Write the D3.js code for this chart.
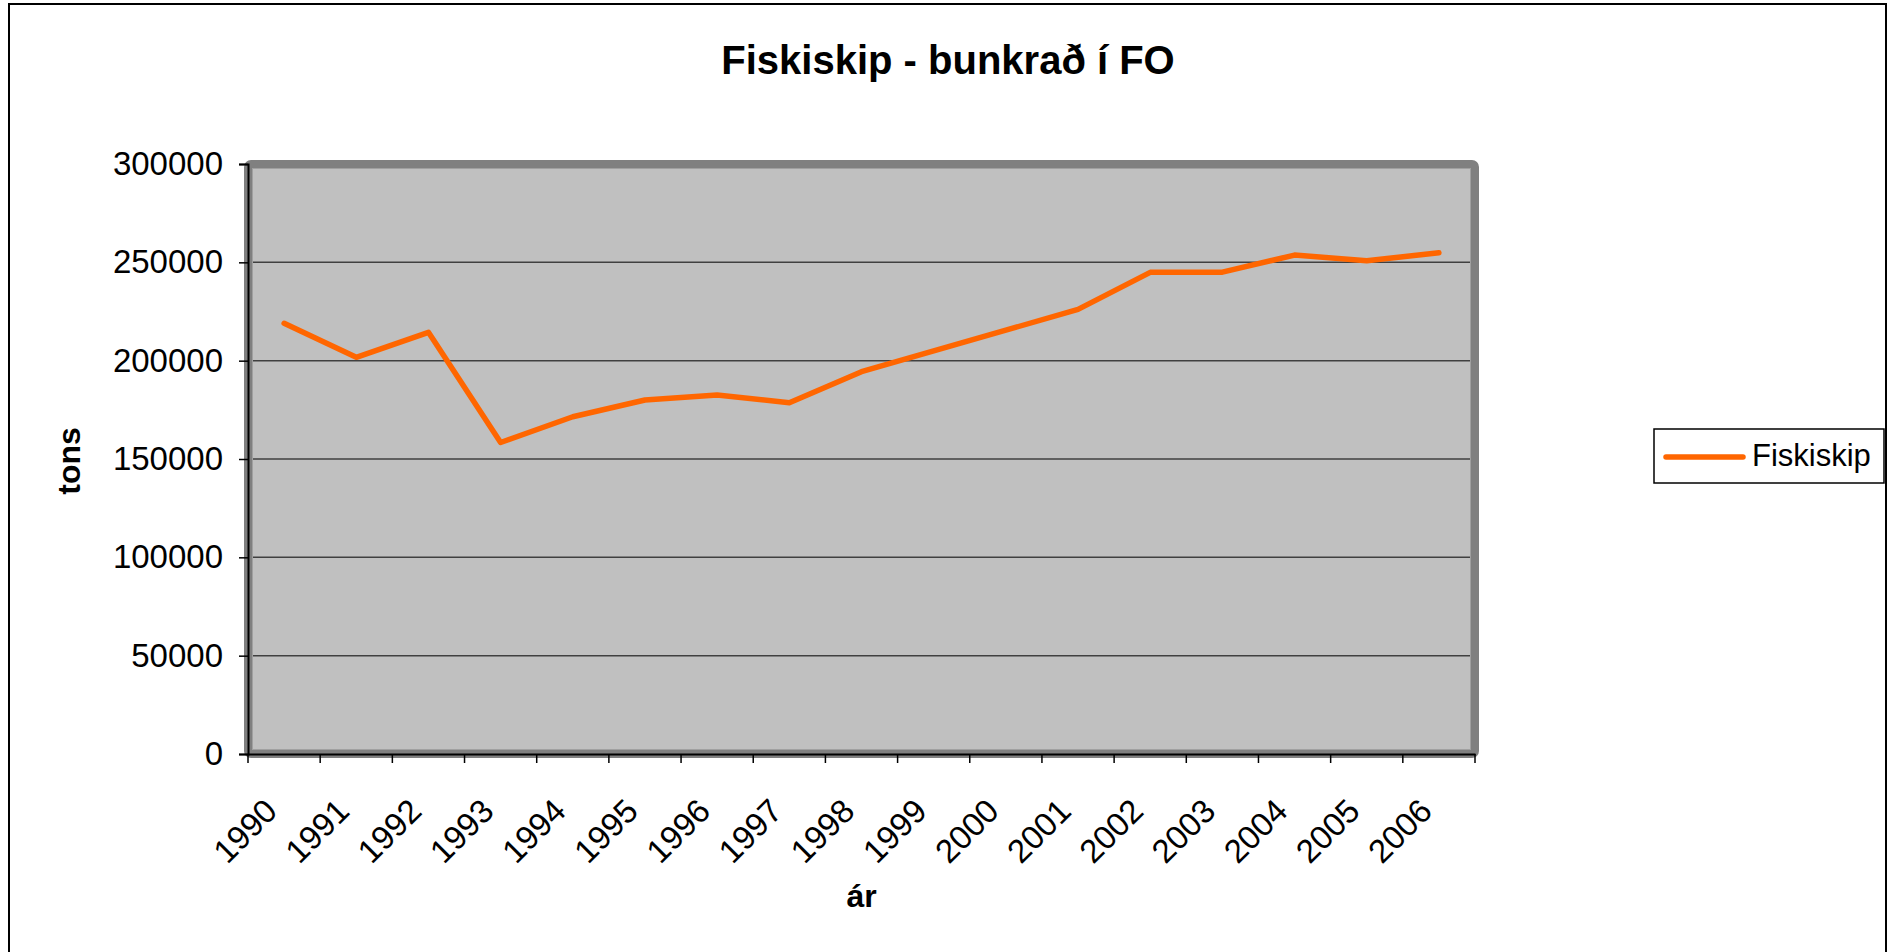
<!DOCTYPE html>
<html>
<head>
<meta charset="utf-8">
<script src="https://cdn.jsdelivr.net/npm/d3@7"></script>
<style>
  html, body { margin: 0; padding: 0; background: #fff; }
  svg { display: block; font-family: "Liberation Sans", Arial, sans-serif; }
</style>
</head>
<body>
<svg id="chart" width="1896" height="952"></svg>
<script>
const years = ["1990","1991","1992","1993","1994","1995","1996","1997","1998","1999","2000","2001","2002","2003","2004","2005","2006"];
const fiskiskip = [219000, 201700, 214400, 158400, 171500, 180000, 182500, 178600, 194400, 205000, 215500, 226100, 244900, 245000, 253700, 250800, 254900];
const yTicks = [0, 50000, 100000, 150000, 200000, 250000, 300000];
const seriesName = "Fiskiskip";
const title = "Fiskiskip - bunkrað í FO";
const xTitle = "ár";
const yTitle = "tons";

const svg = d3.select("#chart");
const L = 248, R = 1475, T = 164, B = 754;

const x = d3.scaleBand().domain(years).range([L, R]).paddingInner(0).paddingOuter(0);
const y = d3.scaleLinear().domain([0, 300000]).range([B, T]);

// outer frame
svg.append("rect").attr("x", 9).attr("y", 4).attr("width", 1877).attr("height", 960)
  .attr("fill", "#fff").attr("stroke", "#000").attr("stroke-width", 2);

// title
svg.append("text").attr("x", 948).attr("y", 74).attr("text-anchor", "middle")
  .attr("font-size", 40).attr("font-weight", "bold").text(title);

// plot area
svg.append("rect").attr("x", L).attr("y", T).attr("width", R - L).attr("height", B - T)
  .attr("fill", "#C0C0C0");

// gridlines
svg.append("g").selectAll("line").data(yTicks.filter(v => v > 0 && v < 300000)).join("line")
  .attr("x1", L).attr("x2", R).attr("y1", d => y(d)).attr("y2", d => y(d))
  .attr("stroke", "#404040").attr("stroke-width", 1.5);

// plot border (gray, rounded)
svg.append("rect").attr("x", L).attr("y", T).attr("width", R - L).attr("height", B - T)
  .attr("fill", "none").attr("stroke", "#808080").attr("stroke-width", 8).attr("rx", 3);
svg.append("rect").attr("x", L + 4.5).attr("y", T + 4.5).attr("width", R - L - 9).attr("height", B - T - 9)
  .attr("fill", "none").attr("stroke", "#A0A0A0").attr("stroke-width", 1);

// y axis
const yAxis = d3.axisLeft(y).tickValues(yTicks).tickSize(9).tickPadding(16).tickFormat(d3.format("d"));
const gy = svg.append("g").attr("transform", `translate(${L},0)`).call(yAxis);
gy.select(".domain").attr("stroke", "#000").attr("stroke-width", 2);
gy.selectAll(".tick line").attr("stroke", "#000").attr("stroke-width", 1.5);
gy.selectAll(".tick text").attr("font-size", 33).attr("fill", "#000")
  .attr("font-family", "Liberation Sans, Arial, sans-serif");

// x axis
const xAxis = d3.axisBottom(x).tickSize(0).tickPadding(0);
const gx = svg.append("g").attr("transform", `translate(0,${B})`).call(xAxis);
gx.select(".domain").attr("stroke", "#000").attr("stroke-width", 2);
gx.selectAll(".tick text")
  .attr("font-size", 33).attr("fill", "#000")
  .attr("font-family", "Liberation Sans, Arial, sans-serif")
  .attr("text-anchor", "end")
  .attr("dy", 0).attr("y", 0)
  .attr("transform", "translate(-5,59) rotate(-45)");
// boundary ticks
const bounds = years.map(v => x(v)).concat([x.range()[1]]);
svg.append("g").selectAll("line").data(bounds).join("line")
  .attr("x1", d => d).attr("x2", d => d).attr("y1", B).attr("y2", B + 9)
  .attr("stroke", "#000").attr("stroke-width", 1.5);

// axis titles
svg.append("text").attr("transform", `translate(80,461) rotate(-90)`).attr("text-anchor", "middle")
  .attr("font-size", 32).attr("font-weight", "bold").text(yTitle);
svg.append("text").attr("x", (L + R) / 2).attr("y", 907).attr("text-anchor", "middle")
  .attr("font-size", 32).attr("font-weight", "bold").text(xTitle);

// line
const line = d3.line().x((d, i) => x(years[i]) + x.bandwidth() / 2).y(d => y(d));
svg.append("path").datum(fiskiskip).attr("d", line)
  .attr("fill", "none").attr("stroke", "#FF6600").attr("stroke-width", 5.5)
  .attr("stroke-linejoin", "round").attr("stroke-linecap", "round");

// legend
const lg = svg.append("g");
lg.append("rect").attr("x", 1654).attr("y", 429).attr("width", 230).attr("height", 54)
  .attr("fill", "#fff").attr("stroke", "#000").attr("stroke-width", 1.5);
lg.append("line").attr("x1", 1666).attr("x2", 1743).attr("y1", 457).attr("y2", 457)
  .attr("stroke", "#FF6600").attr("stroke-width", 5.5).attr("stroke-linecap", "round");
lg.append("text").attr("x", 1752).attr("y", 466).attr("font-size", 31).text(seriesName);
</script>
</body>
</html>
